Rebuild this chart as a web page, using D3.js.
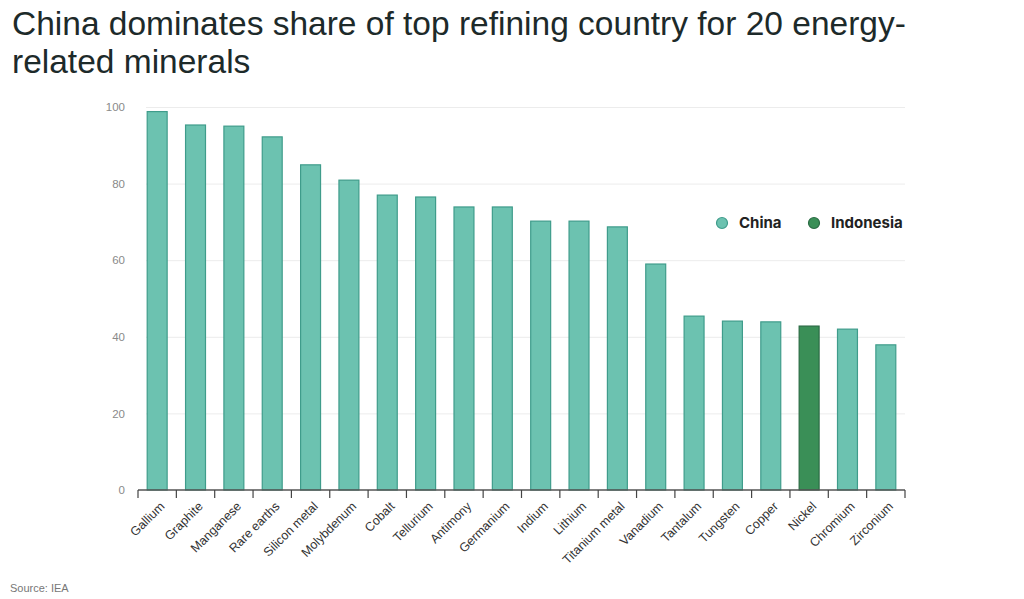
<!DOCTYPE html>
<html>
<head>
<meta charset="utf-8">
<script src="https://cdn.jsdelivr.net/npm/d3@7"></script>
<style>
  body { margin: 0; background: #fff; font-family: "Liberation Sans", Arial, sans-serif; }
  .title { font-size: 33.5px; fill: #1d2a2a; }
  .ytick text { font-size: 11.5px; fill: #8a8a8a; }
  .xtick text { font-size: 12.5px; fill: #333; }
  .legend text { font-size: 15px; font-weight: bold; fill: #222; font-family: Inter, "Liberation Sans", sans-serif; }
  .source { font-size: 11px; fill: #777; }
</style>
</head>
<body>
<div id="chart"></div>
<script>
// data
var minerals = ["Gallium", "Graphite", "Manganese", "Rare earths", "Silicon metal", "Molybdenum",
  "Cobalt", "Tellurium", "Antimony", "Germanium", "Indium", "Lithium", "Titanium metal",
  "Vanadium", "Tantalum", "Tungsten", "Copper", "Nickel", "Chromium", "Zirconium"];
var shares = [98.8, 95.3, 95, 92.2, 84.9, 80.9, 77, 76.5, 73.9, 73.9, 70.2, 70.2, 68.7,
  59, 45.4, 44.1, 43.9, 42.8, 42, 37.9];
var countries = ["China", "China", "China", "China", "China", "China", "China", "China",
  "China", "China", "China", "China", "China", "China", "China", "China", "China",
  "Indonesia", "China", "China"];
var yTicks = [0, 20, 40, 60, 80, 100];
var legendKeys = ["China", "Indonesia"];

var width = 1024, height = 599;
var plotLeft = 138, plotRight = 905, plotTop = 107, plotBottom = 490;

var svg = d3.select("#chart").append("svg")
  .attr("width", width)
  .attr("height", height);

// title
var title = svg.append("text").attr("class", "title");
title.append("tspan").attr("x", 12).attr("y", 35)
  .text("China dominates share of top refining country for 20 energy-");
title.append("tspan").attr("x", 12).attr("y", 73)
  .text("related minerals");

var x = d3.scaleBand().domain(minerals).range([plotLeft, plotRight]).paddingInner(0.48).paddingOuter(0.24);
var y = d3.scaleLinear().domain([0, 100]).range([plotBottom, plotTop]);
var color = d3.scaleOrdinal().domain(legendKeys).range(["#6cc2b0", "#3a8f57"]);
var stroke = d3.scaleOrdinal().domain(legendKeys).range(["#3f9c8b", "#2b6b44"]);

// gridlines + y labels
var yg = svg.append("g").attr("class", "ytick")
  .attr("transform", "translate(" + plotLeft + ",0)")
  .call(d3.axisLeft(y).tickValues(yTicks).tickSize(0).tickPadding(13));
yg.select(".domain").remove();
yg.selectAll(".tick")
  .filter(function (d) { return d > 0; })
  .append("line")
  .attr("x1", 8).attr("x2", plotRight - plotLeft)
  .attr("stroke", "#ececec");

var data = minerals.map(function (m, i) {
  return { name: m, value: shares[i], country: countries[i] };
});

// bars
svg.selectAll(".bar")
  .data(data)
  .enter().append("rect")
  .attr("class", "bar")
  .attr("x", function (d) { return x(d.name); })
  .attr("width", x.bandwidth())
  .attr("y", function (d) { return y(d.value); })
  .attr("height", function (d) { return plotBottom - y(d.value); })
  .style("fill", function (d) { return color(d.country); })
  .style("stroke", function (d) { return stroke(d.country); })
  .style("stroke-width", 1.2);

// x axis with ticks on band edges
var xg = svg.append("g").attr("class", "xtick")
  .attr("transform", "translate(0," + plotBottom + ")");
xg.append("line").attr("x1", plotLeft).attr("x2", plotRight)
  .attr("stroke", "#555").attr("stroke-width", 1.5);
var step = x.step();
var edges = d3.range(minerals.length + 1).map(function (i) { return plotLeft + i * step; });
xg.selectAll(".edge")
  .data(edges)
  .enter().append("line")
  .attr("x1", function (d) { return d; }).attr("x2", function (d) { return d; })
  .attr("y1", 0).attr("y2", 8)
  .attr("stroke", "#444").attr("stroke-width", 1.2);
xg.selectAll(".lab")
  .data(minerals)
  .enter().append("text")
  .attr("transform", function (d) {
    return "translate(" + (x(d) + x.bandwidth() / 2 + 5) + ",14) rotate(-45)";
  })
  .attr("text-anchor", "end")
  .attr("dy", "0.35em")
  .text(function (d) { return d; });

// legend
var legend = svg.selectAll(".legend")
  .data(legendKeys)
  .enter().append("g")
  .attr("class", "legend")
  .attr("transform", function (d, i) { return "translate(" + (722 + i * 92) + ",223)"; });
legend.append("circle")
  .attr("r", 5.5)
  .style("fill", color)
  .style("stroke", stroke)
  .style("stroke-width", 1.2);
legend.append("text")
  .attr("x", 17)
  .attr("dy", "0.36em")
  .text(function (d) { return d; });

// source
svg.append("text").attr("class", "source")
  .attr("x", 10).attr("y", 592)
  .text("Source: IEA");
</script>
</body>
</html>
